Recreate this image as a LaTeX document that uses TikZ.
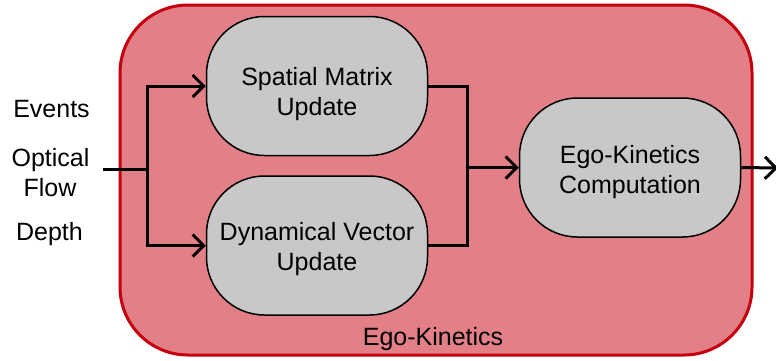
\documentclass[tikz,border=0pt]{standalone}
\usepackage{fontspec}
\setmainfont{Liberation Sans}
\usetikzlibrary{arrows.meta}
\definecolor{outerfill}{RGB}{227,127,134}
\definecolor{outerline}{RGB}{196,0,14}
\definecolor{boxfill}{RGB}{200,200,200}
\begin{document}
\begin{tikzpicture}[x=1pt,y=-1pt,
  txt/.style={font=\fontsize{25}{30}\selectfont},
  stagebox/.style={draw=black, line width=1.5pt, fill=boxfill, rounded corners=58pt,
    minimum width=221pt, minimum height=139pt, inner sep=0pt},
  stagetext/.style={txt, align=center, inner sep=0pt, yshift=-8pt},
  inlabel/.style={txt, anchor=base, inner sep=0pt},
  wire/.style={line width=3pt},
  flow/.style={line width=3pt, -{Straight Barb[length=11pt,width=22pt]}}]
\useasboundingbox (0,0) rectangle (776,360);
% enclosing module
\node[draw=outerline, line width=3pt, fill=outerfill, rounded corners=68pt,
  minimum width=632pt, minimum height=350pt, inner sep=0pt] (module) at (436,180) {};
\node[txt, anchor=base] (modlabel) at (433,345) {Ego-Kinetics};
% stages
\node[stagebox, label={[stagetext]center:Spatial Matrix\\Update}] (spatial) at (317,86) {};
\node[stagebox, label={[stagetext, yshift=4pt]center:Dynamical Vector\\Update}] (dynamic) at (317,245.5) {};
\node[stagebox, label={[stagetext, yshift=3pt]center:Ego-Kinetics\\Computation}] (ego) at (630,167.5) {};
% inputs
\node[inlabel] (events) at (51.5,117) {Events};
\node[inlabel] (optical) at (50.5,166) {Optical};
\node[inlabel] (flowlbl) at (50,196.5) {Flow};
\node[inlabel] (depth) at (49.5,240.5) {Depth};
% junction points
\coordinate (src) at (103,169);
\coordinate (split) at (147,169);
\coordinate (mergeright) at (467,167.5);
\coordinate (out) at (778,168);
% fan-out to the two update stages
\draw[wire] (src) -- (split);
\draw[flow] (split) |- (spatial.west);
\draw[flow] (split) |- (dynamic.west);
% merge into the computation stage
\draw[wire] (spatial.east) -| (mergeright) |- (dynamic.east);
\draw[flow] (mergeright) -- (ego.west);
% output
\draw[flow] (ego.east) -- (out);
\end{tikzpicture}
\end{document}
